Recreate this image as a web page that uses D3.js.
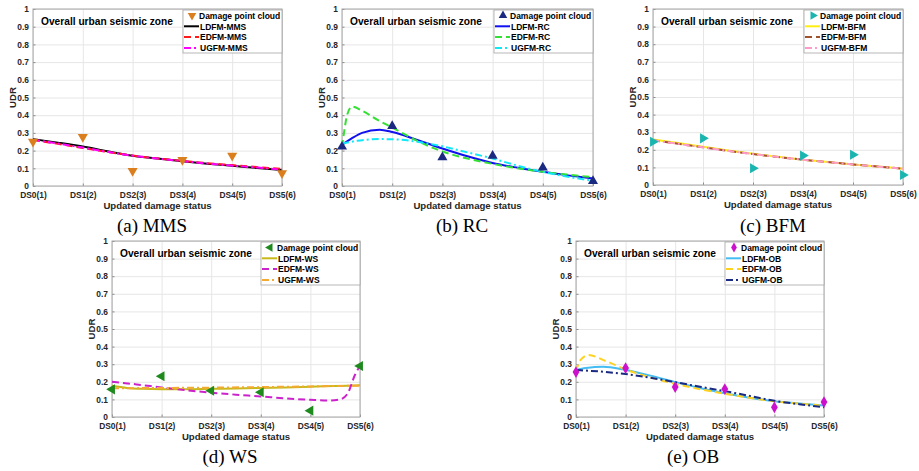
<!DOCTYPE html>
<html>
<head>
<meta charset="utf-8">
<script src="https://cdn.jsdelivr.net/npm/d3@7"></script>
<style>
  body { margin: 0; background: #fff; }
  svg { display: block; }
  text { font-family: "Liberation Sans", Arial, sans-serif; }
</style>
</head>
<body>
<div id="chart"></div>
<script>
// Tick labels shared by all five panels
const dsLabels = ["DS0(1)", "DS1(2)", "DS2(3)", "DS3(4)", "DS4(5)", "DS5(6)"];
const yTickValues = [0, 0.1, 0.2, 0.3, 0.4, 0.5, 0.6, 0.7, 0.8, 0.9, 1];
const yTickLabels = ["0", "0.1", "0.2", "0.3", "0.4", "0.5", "0.6", "0.7", "0.8", "0.9", "1"];

// (a) MMS
const mmsPoints = [0.25, 0.277, 0.085, 0.147, 0.171, 0.072];
const mmsLdfm = [[0,0.265],[0.5,0.245],[1,0.223],[1.5,0.196],[2,0.171],[2.5,0.155],[3,0.14],[3.5,0.126],[4,0.114],[4.5,0.102],[5,0.09]];
const mmsEdfm = [[0,0.26],[0.5,0.238],[1,0.215],[1.5,0.192],[2,0.172],[2.5,0.156],[3,0.142],[3.5,0.129],[4,0.118],[4.5,0.107],[5,0.096]];
const mmsUgfm = [[0,0.262],[0.5,0.24],[1,0.217],[1.5,0.193],[2,0.171],[2.5,0.155],[3,0.141],[3.5,0.127],[4,0.115],[4.5,0.104],[5,0.092]];

// (b) RC
const rcPoints = [0.222, 0.339, 0.162, 0.171, 0.104, 0.028];
const rcLdfm = [[0,0.232],[0.2,0.27],[0.4,0.3],[0.75,0.318],[1,0.305],[1.5,0.26],[2,0.212],[2.5,0.168],[3,0.13],[3.5,0.103],[4,0.08],[4.5,0.06],[5,0.042]];
const rcEdfm = [[0,0.22],[0.05,0.32],[0.1,0.4],[0.2,0.448],[0.4,0.425],[0.7,0.375],[1,0.33],[1.5,0.255],[2,0.195],[2.5,0.155],[3,0.125],[3.5,0.1],[4,0.08],[4.5,0.064],[5,0.05]];
const rcUgfm = [[0,0.24],[0.3,0.255],[0.75,0.265],[1,0.264],[1.5,0.25],[2,0.224],[2.5,0.19],[3,0.155],[3.5,0.115],[4,0.08],[4.5,0.052],[5,0.03]];

// (c) BFM
const bfmPoints = [0.246, 0.265, 0.095, 0.167, 0.172, 0.057];
const bfmLdfm = [[0,0.258],[0.5,0.238],[1,0.217],[1.5,0.196],[2,0.177],[2.5,0.16],[3,0.144],[3.5,0.13],[4,0.117],[4.5,0.105],[5,0.093]];
const bfmEdfm = [[0,0.254],[0.5,0.234],[1,0.214],[1.5,0.194],[2,0.176],[2.5,0.159],[3,0.144],[3.5,0.13],[4,0.117],[4.5,0.105],[5,0.093]];
const bfmUgfm = [[0,0.254],[0.5,0.234],[1,0.214],[1.5,0.194],[2,0.176],[2.5,0.159],[3,0.144],[3.5,0.13],[4,0.117],[4.5,0.105],[5,0.093]];

// (d) WS
const wsPoints = [0.157, 0.232, 0.149, 0.141, 0.036, 0.29];
const wsLdfm = [[0,0.177],[0.3,0.165],[0.6,0.16],[1,0.158],[1.5,0.158],[2,0.16],[2.5,0.162],[3,0.165],[3.5,0.168],[4,0.172],[4.5,0.176],[5,0.18]];
const wsEdfm = [[0,0.2],[0.5,0.185],[1,0.168],[1.5,0.152],[2,0.138],[2.5,0.127],[3,0.117],[3.5,0.106],[4,0.098],[4.4,0.094],[4.6,0.1],[4.75,0.133],[4.9,0.24],[5,0.29]];
const wsUgfm = [[0,0.163],[1,0.165],[2,0.167],[3,0.17],[4,0.174],[5,0.178]];

// (e) OB
const obPoints = [0.255, 0.278, 0.17, 0.159, 0.055, 0.085];
const obLdfm = [[0,0.267],[0.2,0.278],[0.55,0.286],[1,0.267],[1.5,0.235],[2,0.198],[2.5,0.165],[3,0.135],[3.5,0.11],[4,0.09],[4.5,0.077],[5,0.066]];
const obEdfm = [[0,0.26],[0.08,0.32],[0.25,0.352],[0.6,0.318],[1,0.27],[1.5,0.225],[2,0.188],[2.5,0.158],[3,0.132],[3.5,0.11],[4,0.089],[4.5,0.076],[5,0.064]];
const obUgfm = [[0,0.267],[0.5,0.258],[1,0.244],[1.5,0.223],[2,0.198],[2.5,0.172],[3,0.147],[3.5,0.12],[4,0.092],[4.5,0.073],[5,0.055]];

const DASH = "7 4";
const DASHDOT = "7 3 2 3";

const panels = [
  { caption: "(a) MMS", left: 33, top: 9, width: 249, height: 177, capX: 152, capY: 232,
    points: mmsPoints, marker: "down", markerColor: "#DB7F1E",
    series: [
      { name: "LDFM-MMS", data: mmsLdfm, color: "#000000", dash: null },
      { name: "EDFM-MMS", data: mmsEdfm, color: "#FF1A1A", dash: DASH },
      { name: "UGFM-MMS", data: mmsUgfm, color: "#FF00FF", dash: DASHDOT }
    ] },
  { caption: "(b) RC", left: 342, top: 9, width: 251, height: 177, capX: 462, capY: 232,
    points: rcPoints, marker: "up", markerColor: "#1B2A80",
    series: [
      { name: "LDFM-RC", data: rcLdfm, color: "#1010F0", dash: null },
      { name: "EDFM-RC", data: rcEdfm, color: "#33E033", dash: DASH },
      { name: "UGFM-RC", data: rcUgfm, color: "#10E8F8", dash: DASHDOT }
    ] },
  { caption: "(c) BFM", left: 653, top: 9, width: 250, height: 176, capX: 773, capY: 232,
    points: bfmPoints, marker: "right", markerColor: "#1BB5B0",
    series: [
      { name: "LDFM-BFM", data: bfmLdfm, color: "#FFEE10", dash: null },
      { name: "EDFM-BFM", data: bfmEdfm, color: "#A0522D", dash: DASH },
      { name: "UGFM-BFM", data: bfmUgfm, color: "#FF9BCB", dash: DASHDOT }
    ] },
  { caption: "(d) WS", left: 112, top: 241, width: 248, height: 176, capX: 230, capY: 463,
    points: wsPoints, marker: "left", markerColor: "#1E8A1E",
    series: [
      { name: "LDFM-WS", data: wsLdfm, color: "#C8B818", dash: null },
      { name: "EDFM-WS", data: wsEdfm, color: "#CC22CC", dash: DASH },
      { name: "UGFM-WS", data: wsUgfm, color: "#F2AA35", dash: DASHDOT }
    ] },
  { caption: "(e) OB", left: 576, top: 241, width: 248, height: 176, capX: 693, capY: 463,
    points: obPoints, marker: "diamond", markerColor: "#CC11CC",
    series: [
      { name: "LDFM-OB", data: obLdfm, color: "#45BDF2", dash: null },
      { name: "EDFM-OB", data: obEdfm, color: "#FFD21F", dash: DASH },
      { name: "UGFM-OB", data: obUgfm, color: "#1A2A82", dash: DASHDOT }
    ] }
];

const svg = d3.select("#chart").append("svg")
  .attr("width", 919).attr("height", 471)
  .style("background", "#fff");

function markerPath(type) {
  if (type === "diamond") return d3.symbol(d3.symbolDiamond, 40)();
  return d3.symbol(d3.symbolTriangle, 44)();
}
function markerRotate(type) {
  return { up: 0, down: 180, right: 90, left: -90, diamond: 0 }[type];
}

panels.forEach(p => {
  const g = svg.append("g").attr("transform", `translate(${p.left},${p.top})`);
  const x = d3.scaleLinear().domain([0, 5]).range([0, p.width]);
  const y = d3.scaleLinear().domain([0, 1]).range([p.height, 0]);

  // Grid
  g.append("g")
    .call(d3.axisBottom(x).tickValues(d3.range(6)).tickSize(p.height).tickFormat(""))
    .call(a => a.select(".domain").remove())
    .selectAll("line").attr("stroke", "#e6e6e6");
  g.append("g")
    .call(d3.axisLeft(y).tickValues(yTickValues).tickSize(-p.width).tickFormat(""))
    .call(a => a.select(".domain").remove())
    .selectAll("line").attr("stroke", "#e6e6e6");

  // Axes
  const xAxis = g.append("g").attr("transform", `translate(0,${p.height})`)
    .call(d3.axisBottom(x).tickValues(d3.range(6)).tickSizeInner(-2.5).tickSizeOuter(0).tickPadding(6)
      .tickFormat(i => dsLabels[i]));
  xAxis.selectAll("text").attr("font-size", "8.4px").attr("font-weight", "bold").attr("fill", "#262626");
  const yAxis = g.append("g")
    .call(d3.axisLeft(y).tickValues(yTickValues).tickSizeInner(-2.5).tickSizeOuter(0).tickPadding(4)
      .tickFormat((d, i) => yTickLabels[i]));
  yAxis.selectAll("text").attr("font-size", "8.4px").attr("font-weight", "bold").attr("fill", "#262626");
  [xAxis, yAxis].forEach(a => {
    a.select(".domain").remove();
    a.selectAll("line").attr("stroke", "#8c8c8c");
  });
  g.append("rect").attr("width", p.width).attr("height", p.height)
    .attr("fill", "none").attr("stroke", "#a6a6a6").attr("stroke-width", 1);

  // Axis titles
  g.append("text").attr("x", p.width / 2).attr("y", p.height + 23)
    .attr("text-anchor", "middle").attr("font-size", "9.6px").attr("font-weight", "bold")
    .attr("fill", "#262626").text("Updated damage status");
  g.append("text").attr("transform", `translate(-17,${p.height / 2}) rotate(-90)`)
    .attr("text-anchor", "middle").attr("font-size", "9.6px").attr("font-weight", "bold")
    .attr("fill", "#262626").text("UDR");

  // Curves
  const line = d3.line().x(d => x(d[0])).y(d => y(d[1])).curve(d3.curveMonotoneX);
  p.series.forEach(s => {
    g.append("path").datum(s.data)
      .attr("fill", "none").attr("stroke", s.color).attr("stroke-width", 2)
      .attr("stroke-dasharray", s.dash).attr("d", line);
  });

  // Damage points
  g.selectAll(".pt").data(p.points).enter().append("path")
    .attr("d", markerPath(p.marker))
    .attr("transform", (d, i) => `translate(${x(i)},${y(d)}) rotate(${markerRotate(p.marker)})`)
    .attr("fill", p.markerColor);

  // Zone label
  g.append("text").attr("x", 8).attr("y", 16)
    .attr("font-size", "10.2px").attr("font-weight", "bold").attr("fill", "#000")
    .text("Overall urban seismic zone");

  // Legend
  const lw = 99, lh = 43;
  const lg = g.append("g").attr("transform", `translate(${p.width - lw},1)`);
  lg.append("rect").attr("width", lw).attr("height", lh)
    .attr("fill", "#fff").attr("stroke", "#a6a6a6").attr("stroke-width", 0.8);
  const rows = [{ name: "Damage point cloud", point: true }].concat(p.series);
  rows.forEach((r, i) => {
    const ry = 5.5 + i * 10.8;
    if (r.point) {
      lg.append("path").attr("d", markerPath(p.marker))
        .attr("transform", `translate(9,${ry}) rotate(${markerRotate(p.marker)}) scale(0.85)`)
        .attr("fill", p.markerColor);
    } else {
      lg.append("line").attr("x1", 1).attr("x2", 16).attr("y1", ry).attr("y2", ry)
        .attr("stroke", r.color).attr("stroke-width", 2).attr("stroke-dasharray", r.dash);
    }
    lg.append("text").attr("x", r.point ? 16 : 17).attr("y", ry + 3.2)
      .attr("font-size", "8.5px").attr("font-weight", "bold").attr("fill", "#000")
      .text(r.name);
  });

  // Caption
  svg.append("text").attr("x", p.capX).attr("y", p.capY)
    .attr("text-anchor", "middle")
    .style("font-family", "'Liberation Serif', 'Times New Roman', serif")
    .attr("font-size", "19px").attr("fill", "#000").text(p.caption);
});
</script>
</body>
</html>
